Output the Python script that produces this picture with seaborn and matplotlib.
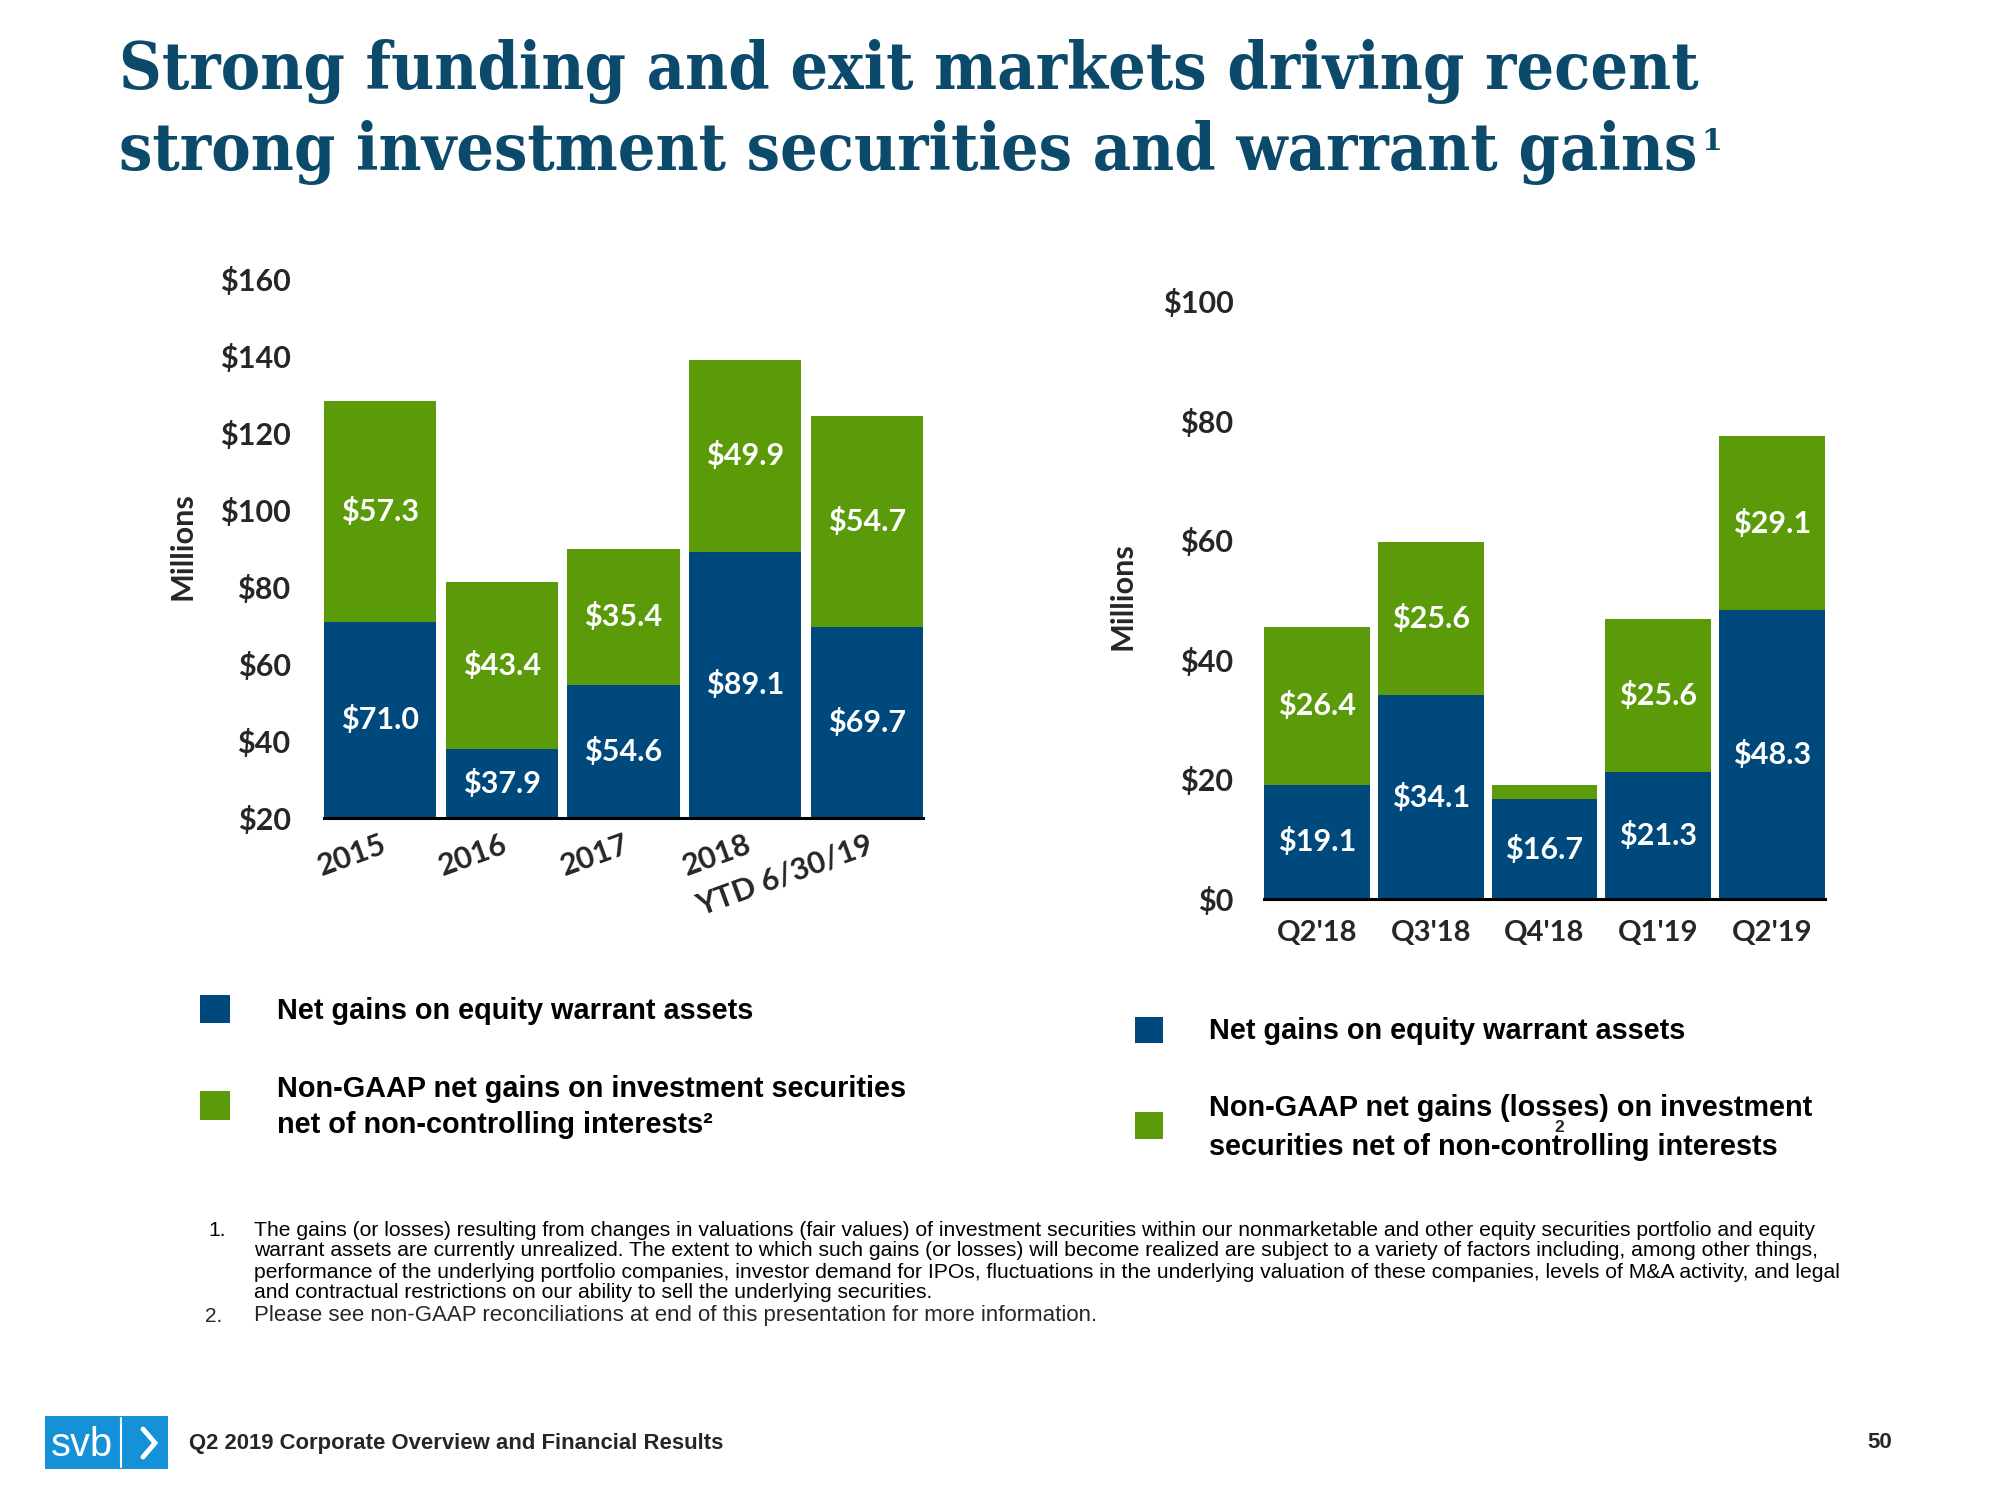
import matplotlib
matplotlib.use("Agg")
import matplotlib.pyplot as plt
import seaborn as sns
import pandas as pd
from matplotlib import font_manager as fm
from matplotlib.patches import Rectangle
from matplotlib.lines import Line2D

# ---------------- data ----------------
years = ["2015", "2016", "2017", "2018", "YTD 6/30/19"]
year_warrant = [71.0, 37.9, 54.6, 89.1, 69.7]
year_invest = [57.3, 43.4, 35.4, 49.9, 54.7]

quarters = ["Q2'18", "Q3'18", "Q4'18", "Q1'19", "Q2'19"]
q_warrant = [19.1, 34.1, 16.7, 21.3, 48.3]
q_invest = [26.4, 25.6, 2.3, 25.6, 29.1]
q_invest_labels = ["$26.4", "$25.6", "", "$25.6", "$29.1"]

left_ticks = [20, 40, 60, 80, 100, 120, 140, 160]
right_ticks = [0, 20, 40, 60, 80, 100]

BLUE = "#00497d"
GREEN = "#5b9a08"
TITLE_C = "#0c4a6b"

# ---------------- fonts ----------------
sns.set_theme(style="white")
names = {f.name for f in fm.fontManager.ttflist}
plt.rcParams["font.family"] = ["Lato", "DejaVu Sans"]
NARROW = "Liberation Sans Narrow" if "Liberation Sans Narrow" in names else "Liberation Sans"

W, H = 2000, 1500
fig = plt.figure(figsize=(20, 15), dpi=100)
renderer = fig.canvas.get_renderer()


def fx(x):
    return x / W


def fy(y):
    return 1 - y / H


def fit(t, width_px):
    w = t.get_window_extent(renderer=renderer).width
    t.set_fontsize(t.get_fontsize() * width_px / w)
    return t.get_fontsize()


# ---------------- title ----------------
title_kw = dict(family="DejaVu Serif", fontstretch="condensed", fontweight="bold",
                color=TITLE_C, va="baseline", ha="left", fontsize=60)
t1 = fig.text(fx(119), fy(89), "Strong funding and exit markets driving recent", **title_kw)
size = fit(t1, 1584)
t2 = fig.text(fx(119), fy(170), "strong investment securities and warrant gains", **title_kw)
t2.set_fontsize(size)
bb = t2.get_window_extent(renderer=renderer)
fig.text(fx(bb.x1 + 4), fy(150), "1", family="DejaVu Serif", fontweight="bold",
         color=TITLE_C, fontsize=size * 0.45, va="baseline", ha="left")

# ---------------- left chart ----------------
axL = fig.add_axes([fx(324), fy(818), 599 / W, 539 / H])
dfL = pd.DataFrame({"period": years, "warrant": year_warrant, "invest": year_invest})
dfL["total"] = dfL["warrant"] + dfL["invest"]
sns.barplot(data=dfL, x="period", y="total", color=GREEN, saturation=1, width=0.92,
            linewidth=0, ax=axL)
sns.barplot(data=dfL, x="period", y="warrant", color=BLUE, saturation=1, width=0.92,
            linewidth=0, ax=axL)
axL.set_ylim(20, 160)
axL.set_xlim(-0.46, 4.46)
ylo = 20
for i, (w_, inv) in enumerate(zip(year_warrant, year_invest)):
    axL.text(i, (max(ylo, 0) + w_) / 2, f"${w_:.1f}", color="white", fontsize=22,
             fontweight="bold", ha="center", va="center")
    axL.text(i, w_ + inv / 2, f"${inv:.1f}", color="white", fontsize=22,
             fontweight="bold", ha="center", va="center")
axL.set_yticks(left_ticks)
axL.set_yticklabels([f"${t}" for t in left_ticks])
axL.set_xlabel("")
axL.set_ylabel("")
axL.tick_params(axis="y", length=0, pad=24, labelsize=22)
axL.tick_params(axis="x", length=0, pad=9, labelsize=22)
for lab in axL.get_yticklabels():
    lab.set_fontweight("bold")
for lab in axL.get_xticklabels():
    lab.set_fontweight("bold")
    lab.set_rotation(20)
    lab.set_ha("right")
    lab.set_rotation_mode("anchor")
for s in ["left", "right", "top"]:
    axL.spines[s].set_visible(False)
axL.spines["bottom"].set_color("black")
axL.spines["bottom"].set_linewidth(2.2)
axL.grid(False)
fig.text(fx(182), fy(546), "Millions", rotation=90, fontsize=22, fontweight="bold",
         ha="center", va="center")

# ---------------- right chart ----------------
axR = fig.add_axes([fx(1264), fy(899), 561 / W, 598 / H])
dfR = pd.DataFrame({"period": quarters, "warrant": q_warrant, "invest": q_invest})
dfR["total"] = dfR["warrant"] + dfR["invest"]
sns.barplot(data=dfR, x="period", y="total", color=GREEN, saturation=1, width=0.93,
            linewidth=0, ax=axR)
sns.barplot(data=dfR, x="period", y="warrant", color=BLUE, saturation=1, width=0.93,
            linewidth=0, ax=axR)
axR.set_ylim(0, 100)
axR.set_xlim(-0.465, 4.465)
for i, (w_, inv, lab) in enumerate(zip(q_warrant, q_invest, q_invest_labels)):
    axR.text(i, w_ / 2, f"${w_:.1f}", color="white", fontsize=22,
             fontweight="bold", ha="center", va="center")
    if lab:
        axR.text(i, w_ + inv / 2, lab, color="white", fontsize=22,
                 fontweight="bold", ha="center", va="center")
axR.set_yticks(right_ticks)
axR.set_yticklabels([f"${t}" for t in right_ticks])
axR.set_xlabel("")
axR.set_ylabel("")
axR.tick_params(axis="y", length=0, pad=22, labelsize=22)
axR.tick_params(axis="x", length=0, pad=15, labelsize=21)
for lab in axR.get_yticklabels() + axR.get_xticklabels():
    lab.set_fontweight("bold")
for s in ["left", "right", "top"]:
    axR.spines[s].set_visible(False)
axR.spines["bottom"].set_color("black")
axR.spines["bottom"].set_linewidth(2.2)
axR.grid(False)
fig.text(fx(1122), fy(596), "Millions", rotation=90, fontsize=22, fontweight="bold",
         ha="center", va="center")

# ---------------- legends ----------------
def square(x0, y0, x1, y1, color):
    fig.add_artist(Rectangle((fx(x0), fy(y1)), (x1 - x0) / W, (y1 - y0) / H,
                             transform=fig.transFigure, color=color, lw=0))


leg_kw = dict(family=[NARROW, "DejaVu Sans"], fontweight="bold", ha="left",
              va="center", color="black", fontsize=22)
square(200, 995, 230, 1023, BLUE)
square(200, 1091, 230, 1120, GREEN)
a = fig.text(fx(277), fy(1011), "Net gains on equity warrant assets", **leg_kw)
lsize = fit(a, 477)
b = fig.text(fx(277), fy(1089), "Non-GAAP net gains on investment securities", **leg_kw)
b.set_fontsize(lsize)
c = fig.text(fx(277), fy(1125), "net of non-controlling interests\u00b2", **leg_kw)
c.set_fontsize(lsize)

square(1135, 1017, 1163, 1043, BLUE)
square(1135, 1112, 1163, 1139, GREEN)
d = fig.text(fx(1209), fy(1031), "Net gains on equity warrant assets", **leg_kw)
d.set_fontsize(lsize)
e = fig.text(fx(1209), fy(1108), "Non-GAAP net gains (losses) on investment", **leg_kw)
e.set_fontsize(lsize)
f_ = fig.text(fx(1209), fy(1147), "securities net of non-controlling interests", **leg_kw)
f_.set_fontsize(lsize)
fig.text(fx(1559), fy(1128), "2", family=[NARROW, "DejaVu Sans"], fontweight="bold",
         fontsize=lsize * 0.6, ha="center", va="center")

# ---------------- footnotes ----------------
fn_kw = dict(family=[NARROW, "DejaVu Sans"], ha="left", va="center", color="black",
             fontsize=14)
fn_lines = [
    "The gains (or losses) resulting from changes in valuations (fair values) of investment securities within our nonmarketable and other equity securities portfolio and equity",
    "warrant assets are currently unrealized. The extent to which such gains (or losses) will become realized are subject to a variety of factors including, among other things,",
    "performance of the underlying portfolio companies, investor demand for IPOs, fluctuations in the underlying valuation of these companies, levels of M&A activity, and legal",
    "and contractual restrictions on our ability to sell the underlying securities.",
]
fn_y = [1231, 1251, 1272, 1292]
g = fig.text(fx(254), fy(fn_y[0]), fn_lines[0], **fn_kw)
fsize = fit(g, 1570)
for txt, yy in zip(fn_lines[1:], fn_y[1:]):
    fig.text(fx(254), fy(yy), txt, **{**fn_kw, "fontsize": fsize})
fig.text(fx(208), fy(1231), "1.", **{**fn_kw, "fontsize": fsize})
fig.text(fx(205), fy(1316), "2.", family="Liberation Sans", fontsize=15, ha="left", va="center")
h = fig.text(fx(254), fy(1316),
             "Please see non-GAAP reconciliations at end of this presentation for more information.",
             family="Liberation Sans", fontsize=15, ha="left", va="center")
fit(h, 845)

# ---------------- footer ----------------
fig.add_artist(Rectangle((fx(45), fy(1469)), 123 / W, 53 / H, transform=fig.transFigure,
                         color="#1592d7", lw=0))
fig.add_artist(Line2D([fx(121), fx(121)], [fy(1418), fy(1467)], transform=fig.transFigure,
                      color="white", lw=1.5))
fig.add_artist(Line2D([fx(143), fx(155), fx(143)], [fy(1429), fy(1443), fy(1457)],
                      transform=fig.transFigure, color="white", lw=3.5,
                      solid_joinstyle="miter"))
sv = fig.text(fx(82), fy(1445), "svb", family="Liberation Sans", color="white",
              fontsize=26, ha="center", va="center")
fit(sv, 62)
ft = fig.text(fx(189), fy(1444), "Q2 2019 Corporate Overview and Financial Results",
              family="Liberation Sans", fontweight="bold", fontsize=16, ha="left", va="center")
fit(ft, 535)
fig.text(fx(1880), fy(1442), "50", family="Liberation Sans", fontweight="bold",
         fontsize=16, ha="center", va="center")

fig.savefig("out.png", dpi=100)
